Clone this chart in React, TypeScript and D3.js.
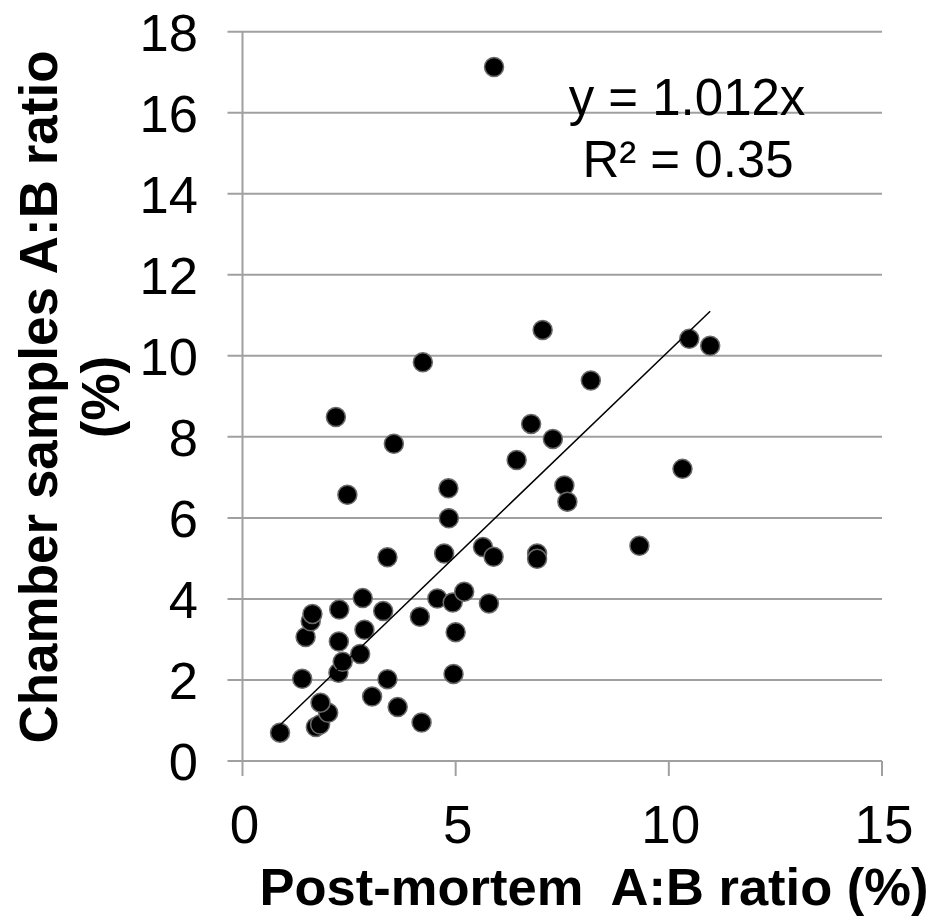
import React from 'react';
import * as d3 from 'd3';

// post-mortem ratio (x) vs chamber samples ratio (y), in %
const postMortem = [
  0.88, 1.72, 1.82, 2.01, 1.83, 1.40, 2.25, 2.35, 2.76, 2.26,
  1.48, 1.60, 1.64, 2.27, 2.82, 2.86, 3.30, 3.40, 3.04, 3.64,
  4.20, 4.16, 4.57, 4.93, 5.20, 5.00, 4.95, 5.78, 3.40, 4.73,
  5.64, 5.89, 6.91, 6.91, 4.84, 4.83, 2.46, 3.55, 2.19, 4.23,
  7.04, 8.17, 10.48, 10.97, 6.77, 7.28, 6.43, 10.32, 7.55, 7.62,
  9.31, 5.90,
];
const chamber = [
  0.70, 0.84, 0.90, 1.19, 1.44, 2.03, 2.18, 2.45, 2.64, 2.95,
  3.06, 3.45, 3.63, 3.74, 4.02, 3.24, 3.70, 2.02, 1.59, 1.33,
  0.95, 3.56, 4.01, 3.91, 4.18, 3.18, 2.15, 3.89, 5.03, 5.12,
  5.28, 5.04, 5.12, 4.99, 5.99, 6.73, 6.57, 7.83, 8.49, 9.84,
  10.64, 9.39, 10.42, 10.25, 8.32, 7.95, 7.43, 7.21, 6.80, 6.40,
  5.31, 17.13,
];

const xTicks = [0, 5, 10, 15];
const yTicks = [0, 2, 4, 6, 8, 10, 12, 14, 16, 18];
const slope = 1.012;
const eqLabel = 'y = 1.012x';
const r2Label = 'R² = 0.35';

export default function App() {
  const W = 935, H = 921;
  const left = 242.5, right = 882, top = 31.7, bottom = 761;

  const x = d3.scaleLinear().domain([0, 15]).range([left, right]);
  const y = d3.scaleLinear().domain([0, 18]).range([bottom, top]);

  const pts = postMortem.map((v, i) => [v, chamber[i]]);
  const [xmin, xmax] = d3.extent(postMortem) as [number, number];
  const trend = d3.line<number>().x(d => x(d)).y(d => y(slope * d))([xmin, xmax]);

  const grid = '#a0a0a0';
  const font = 'Arial, "Liberation Sans", sans-serif';

  return (
    <div style={{ position: 'absolute', left: 0, top: 0 }}>
      <svg width={W} height={H} style={{ display: 'block', background: '#fff' }} fontFamily={font}>
        {/* horizontal gridlines + left ticks */}
        {yTicks.map(t => (
          <g key={'y' + t}>
            <line x1={left - 15} x2={right} y1={y(t)} y2={y(t)} stroke={grid} strokeWidth={2} />
            <text x={198} y={y(t)} dy="0.36em" textAnchor="end" fontSize={52.5} fill="#000">{t}</text>
          </g>
        ))}
        {/* y axis line */}
        <line x1={left} x2={left} y1={top} y2={bottom} stroke={grid} strokeWidth={2} />
        {/* x ticks */}
        {xTicks.map(t => (
          <g key={'x' + t}>
            <line x1={x(t)} x2={x(t)} y1={bottom} y2={bottom + 15} stroke={grid} strokeWidth={2} />
            <text x={x(t) + 2} y={843} textAnchor="middle" fontSize={53} fill="#000">{t}</text>
          </g>
        ))}

        {/* points */}
        {pts.map((d, i) => (
          <circle key={i} cx={x(d[0])} cy={y(d[1])} r={9.5} fill="#000" stroke="#6a6a6a" strokeWidth={1.5} />
        ))}

        {/* linear trend through origin */}
        <path d={trend || ''} stroke="#000" strokeWidth={1.5} fill="none" />

        <text x={687} y={115} textAnchor="middle" fontSize={51} fill="#000">{eqLabel}</text>
        <text x={688} y={177} textAnchor="middle" fontSize={51} fill="#000">{r2Label}</text>

        {/* axis titles */}
        <text x={594} y={905} textAnchor="middle" fontSize={52.5} fontWeight="bold" fill="#000" xmlSpace="preserve">
          Post-mortem  A:B ratio (%)
        </text>
        <g transform="translate(57,397) rotate(-90)">
          <text x={0} y={0} textAnchor="middle" fontSize={53} fontWeight="bold" fill="#000">Chamber samples A:B ratio</text>
          <text x={0} y={62} textAnchor="middle" fontSize={53} fontWeight="bold" fill="#000">(%)</text>
        </g>
      </svg>
    </div>
  );
}
